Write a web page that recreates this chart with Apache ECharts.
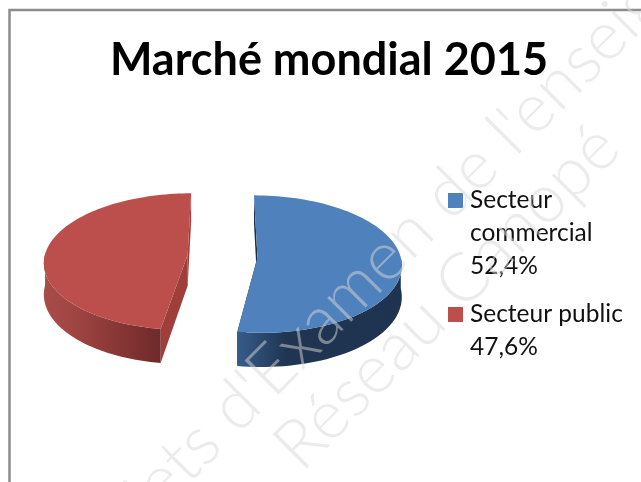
<!DOCTYPE html>
<html><head><meta charset="utf-8">
<style>html,body{margin:0;padding:0;background:#fff}#c{width:641px;height:482px}</style>
<script src="https://cdn.jsdelivr.net/npm/echarts@6/dist/echarts.min.js"></script>
</head><body><div id="c"></div>
<script>
const titleText = 'Marché mondial 2015';
const categories = ['Secteur commercial', 'Secteur public'];
const legendLabels = ['Secteur\ncommercial\n52,4%', 'Secteur public\n47,6%'];
const values = [52.4, 47.6];
const topColors = ['#4F81BD', '#BC4F4B'];
const wallStops = [['#375C8A', '#1F3552', '#1D3350'], ['#A94C48', '#A04542', '#6F2A29']];
const cutColors = ['#1B2E47', '#9E3F3C'];

const VIEW = {cx: 222.5, cy: 256, rx: 143, ry: 68.5, depth: 31, explode: 35, persp: 0.1};
const total = values.reduce((a, b) => a + b, 0);

function project(a0, r, th, down) {
  const x = a0.x + r * Math.sin(th), y = a0.y + r * Math.cos(th);
  const p = 1 - VIEW.persp * y / VIEW.rx;
  return [VIEW.cx + x * p, VIEW.cy - y * (VIEW.ry / VIEW.rx) * p + down * p];
}
function makeRender(idx) {
  return function (params, api) {
    const start = values.slice(0, idx).reduce((a, b) => a + b, 0) / total * 2 * Math.PI;
    const end = start + api.value(0) / total * 2 * Math.PI;
    const mid = (start + end) / 2;
    const o = {x: VIEW.explode * Math.sin(mid), y: VIEW.explode * Math.cos(mid)};
    const top = [], bottom = [];
    const n = 90;
    for (let i = 0; i <= n; i++) {
      const th = start + (end - start) * i / n;
      top.push(project(o, VIEW.rx, th, 0));
      bottom.push(project(o, VIEW.rx, th, VIEW.depth));
    }
    const apex = project(o, 0, 0, 0), apexB = project(o, 0, 0, VIEW.depth);
    const s = wallStops[idx];
    const grad = new echarts.graphic.LinearGradient(0, 0, 1, 0,
      idx === 0
        ? [{offset: 0, color: s[0]}, {offset: 0.3, color: s[1]}, {offset: 1, color: s[2]}]
        : [{offset: 0, color: s[0]}, {offset: 0.25, color: s[1]}, {offset: 1, color: s[2]}]);
    const fi = [];
    for (let i = 0; i <= n; i++) {
      const th = start + (end - start) * i / n;
      if (Math.cos(th) < 0.02) fi.push(i);
    }
    const wall = fi.map(i => top[i]).concat(fi.map(i => bottom[i]).reverse());
    return {
      type: 'group',
      children: [
        {type: 'polygon', shape: {points: [top[0], apex, apexB, bottom[0]]}, style: {fill: cutColors[idx]}},
        {type: 'polygon', shape: {points: [top[n], apex, apexB, bottom[n]]}, style: {fill: cutColors[idx]}},
        {type: 'polygon', shape: {points: wall}, style: {fill: grad}},
        {type: 'polygon', shape: {points: [apex].concat(top)}, style: {fill: topColors[idx]}}
      ]
    };
  };
}
function makeLegend(i, lineCount, top) {
  const h = lineCount * 33;
  return {
    left: 448, top: top, padding: 0, orient: 'vertical', selectedMode: false,
    itemWidth: 17, itemHeight: h,
    data: [{
      name: categories[i],
      icon: 'path://M0 9h15v15H0z M17 0h0 M17 ' + h + 'h0',
      itemStyle: {color: topColors[i], borderWidth: 0}
    }],
    formatter: () => legendLabels[i],
    textStyle: {fontFamily: 'Lato', fontSize: 24.5, lineHeight: 33, color: '#111'}
  };
}
const chart = echarts.init(document.getElementById('c'), null, {renderer: 'canvas'});
chart.setOption({
  animation: false,
  backgroundColor: '#fff',
  title: {
    text: titleText, left: 329, top: 38, textAlign: 'center', padding: 0,
    textStyle: {fontFamily: 'Lato', fontWeight: 'bold', fontSize: 45, color: '#000'}
  },
  legend: [makeLegend(0, 3, 184), makeLegend(1, 2, 298)],
  series: categories.map((name, i) => ({
    type: 'custom', name: name, coordinateSystem: 'none',
    itemStyle: {color: topColors[i]},
    renderItem: makeRender(i), data: [[values[i]]], silent: true
  })),
  graphic: [
    {type: 'polyline', z: 0, shape: {points: [[9.5, 482], [9.5, 10], [641, 10]]},
     style: {stroke: '#8c8c8c', lineWidth: 2.5, fill: null}},
    {type: 'text', z: 100, x: 447, y: 195, rotation: Math.PI / 4, silent: true,
     style: {text: "Sujets d'Examen de l'enseignement", fontFamily: 'Lato', fontWeight: 300, fontSize: 68,
       fill: 'rgba(215,215,215,0.5)', align: 'center', verticalAlign: 'middle'}},
    {type: 'text', z: 100, x: 447, y: 297, rotation: Math.PI / 4, silent: true,
     style: {text: 'Réseau Canopé', fontFamily: 'Lato', fontWeight: 300, fontSize: 68,
       fill: 'rgba(215,215,215,0.5)', align: 'center', verticalAlign: 'middle'}}
  ]
});
</script></body></html>
